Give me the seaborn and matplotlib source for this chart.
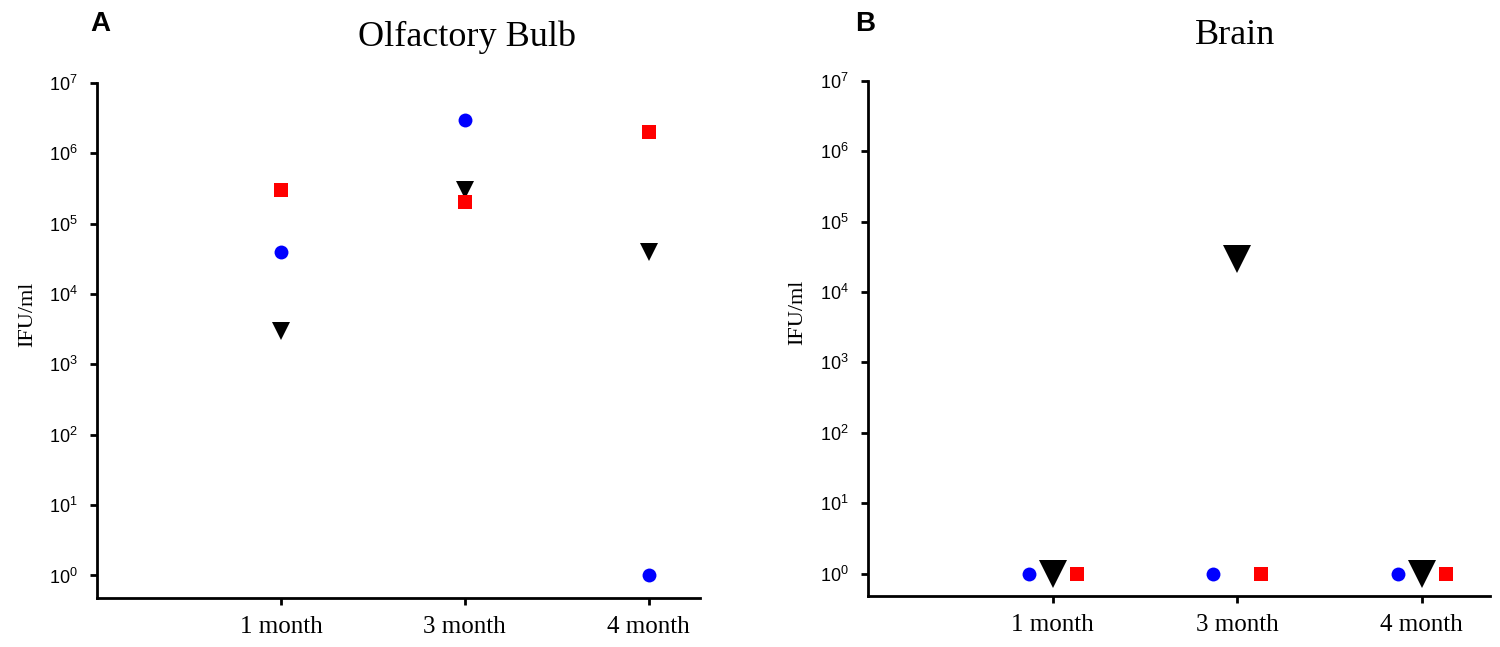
import pandas as pd
import numpy as np
import matplotlib
matplotlib.use("Agg")
import matplotlib.pyplot as plt
import seaborn as sns
from matplotlib.ticker import FixedLocator, LogFormatterMathtext, NullLocator

# values (IFU/ml)
months = ['1 month', '3 month', '4 month']
groups = ['g1', 'g2', 'g3']

ob_g1 = [4e4, 3e6, 1]      # blue circles
ob_g2 = [3e3, 3e5, 4e4]    # black triangles
ob_g3 = [3e5, 2e5, 2e6]    # red squares

br_g1 = [1, 1, 1]
br_g2 = [1, 3e4, 1]
br_g3 = [1, 1, 1]

ytick_vals = [1e0, 1e1, 1e2, 1e3, 1e4, 1e5, 1e6, 1e7]

colors = {'g1': '#0000ff', 'g2': '#000000', 'g3': '#ff0000'}
markers = ['o', 'v', 's']


def make_df(a, b, c):
    rows = []
    for g, vals in zip(groups, [a, b, c]):
        for m, v in zip(months, vals):
            rows.append({'month': m, 'group': g, 'ifu': v})
    return pd.DataFrame(rows)


ob = make_df(ob_g1, ob_g2, ob_g3)
br = make_df(br_g1, br_g2, br_g3)

sns.set_style('ticks')
plt.rcParams['font.family'] = ['Liberation Sans', 'DejaVu Sans']
plt.rcParams['mathtext.default'] = 'regular'
for k in ['text.color', 'axes.edgecolor', 'axes.labelcolor',
          'xtick.color', 'ytick.color']:
    plt.rcParams[k] = 'black'
serif = ['Liberation Serif', 'DejaVu Serif']

fig = plt.figure(figsize=(15, 6.47), dpi=100)
ax1 = fig.add_axes([0.0647, 0.0757, 0.4020, 0.7963])
ax2 = fig.add_axes([0.5787, 0.0788, 0.4147, 0.7960])


def draw(ax, df, dodge, tri_size, xmax):
    sns.pointplot(data=df, x='month', y='ifu', hue='group', hue_order=groups,
                  order=months, palette=colors, markers=markers,
                  linestyles='none', errorbar=None, dodge=dodge,
                  legend=False, ax=ax, markersize=10)
    for ln in ax.lines:
        if ln.get_marker() == 'v':
            ln.set_markersize(tri_size)
        ln.set_markeredgewidth(0)
    ax.set_yscale('log')
    ax.set_ylim(10 ** -0.32, 1e7)
    ax.set_xlim(-1.0, xmax)
    ax.yaxis.set_major_locator(FixedLocator(ytick_vals))
    ax.yaxis.set_major_formatter(LogFormatterMathtext())
    ax.yaxis.set_minor_locator(NullLocator())
    ax.set_xlabel('')
    ax.set_ylabel('IFU/ml', family=serif, fontsize=16)
    for s in ['top', 'right']:
        ax.spines[s].set_visible(False)
    for s in ['left', 'bottom']:
        ax.spines[s].set_linewidth(2)
    ax.tick_params(axis='both', length=5, width=2, direction='out')
    ax.tick_params(axis='y', labelsize=13, pad=9)
    ax.tick_params(axis='x', labelsize=18, pad=8)
    for t in ax.get_xticklabels():
        t.set_family(serif)


draw(ax1, ob, False, 13, 2.28)
draw(ax2, br, 0.26, 20, 2.37)
ax1.yaxis.set_label_coords(-0.10, 0.55)
ax2.yaxis.set_label_coords(-0.097, 0.55)

fig.text(467 / 1500, 1 - 37 / 647, 'Olfactory Bulb', family=serif, fontsize=26,
         ha='center', va='center')
fig.text(1235 / 1500, 1 - 35 / 647, 'Brain', family=serif, fontsize=26,
         ha='center', va='center')
fig.text(100 / 1500, 1 - 24 / 647, 'A', fontsize=20, fontweight='bold',
         ha='center', va='center')
fig.text(865 / 1500, 1 - 24 / 647, 'B', fontsize=20, fontweight='bold',
         ha='center', va='center')

plt.savefig('out.png', dpi=100)
